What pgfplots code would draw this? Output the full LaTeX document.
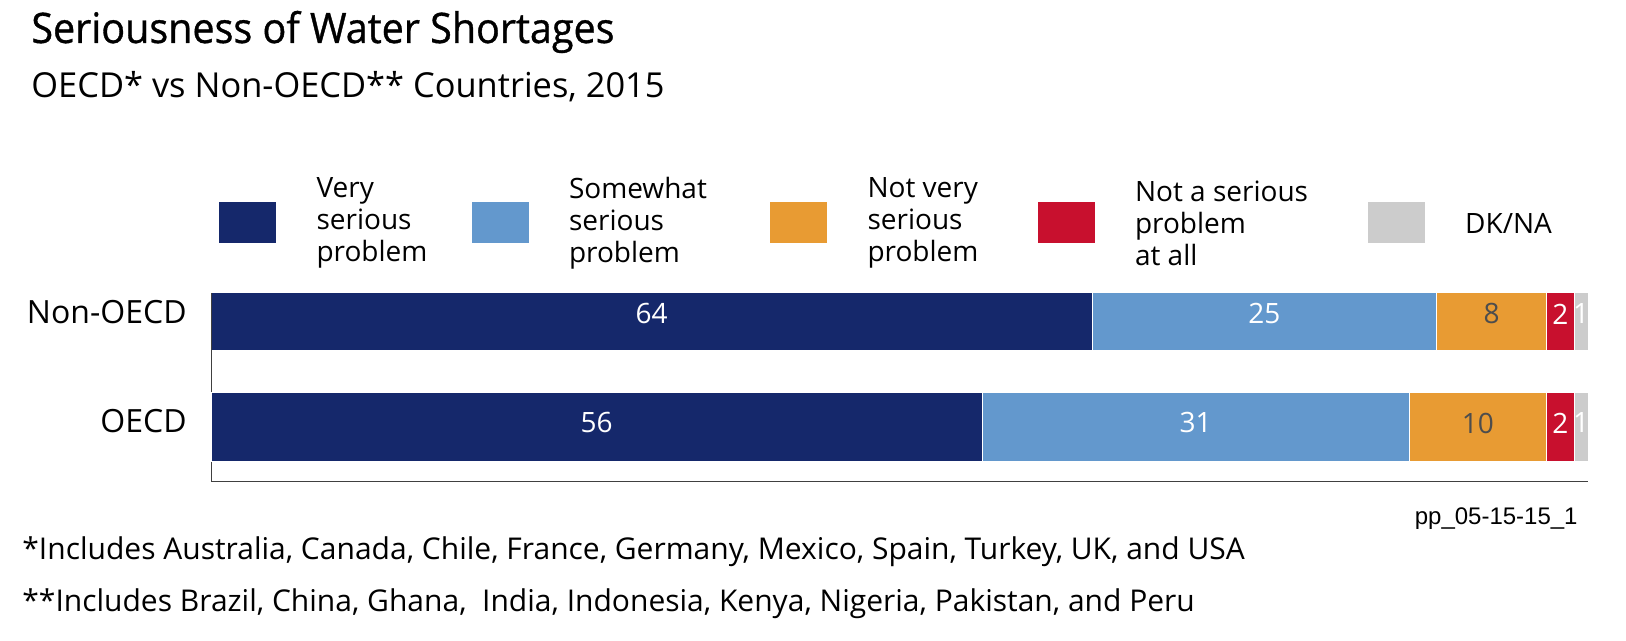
\documentclass[border=0pt]{standalone}
\usepackage{fontspec}
\setmainfont{Open Sans}
\newfontfamily\titlefont[FakeStretch=0.94, FakeBold=0.8]{Open Sans}
\newfontfamily\ppfont{Liberation Sans}
\usepackage{pgfplots}
\usepackage{pgfplotstable}
\pgfplotsset{compat=1.18}
\definecolor{navy}{HTML}{15286B}
\definecolor{lblue}{HTML}{6398CD}
\definecolor{orng}{HTML}{E89B33}
\definecolor{rred}{HTML}{C8102E}
\definecolor{lgray}{HTML}{CCCCCC}
\definecolor{lbl}{HTML}{4D4D4D}

\pgfplotstableread{
y v1 v2 v3 v4 v5
1 64 25 8 2 1
}\nonoecd
\pgfplotstableread{
y v1 v2 v3 v4 v5
0 56 31 10 2 1
}\oecd

\pgfplotsset{
  base/.style={
    width=688.5pt, height=94.5pt, scale only axis,
    at={(105.5pt,79.5pt)}, anchor=south west,
    xmin=0, xmax=100, ymin=-0.5166, ymax=1.2749,
    xbar stacked,
    axis lines=left,
    axis line style={-, line width=0.5pt, black!75},
    xtick=\empty,
    major tick length=0pt,
    yticklabel style={font=\fontsize{16}{19}\selectfont, inner sep=0pt, xshift=-12pt},
    /pgf/number format/assume math mode=true,
    nodes near coords,
    nodes near coords align={center},
    point meta=explicit,
    every node near coord/.append style={font=\fontsize{14}{16}\selectfont, inner sep=0pt},
  },
  seg/.style 2 args={
    fill=#1, draw=white, line width=0.5pt,
    every node near coord/.append style={text=#2},
  },
}

\begin{document}
\begin{tikzpicture}
\useasboundingbox (0,0) rectangle (813pt,320.5pt);

\node[anchor=base west, inner sep=0pt, font=\titlefont\fontsize{21}{24}\selectfont] at (15.5pt,299pt) {Seriousness of Water Shortages};
\node[anchor=base west, inner sep=0pt, font=\fontsize{17.2}{20}\selectfont] at (15.5pt,271.5pt) {OECD* vs Non-OECD** Countries, 2015};

\begin{axis}[base,
  bar width=29pt,
  ytick={1}, yticklabels={Non-OECD},
  yticklabel style={yshift=5pt},
  every node near coord/.append style={yshift=4pt},
  legend columns=5,
  legend cell align=left,
  legend style={at={(0.0051,1.3704)}, anchor=west, draw=none, fill=none,
    inner sep=0pt, outer sep=0pt,
    nodes={inner sep=0pt, text depth={}, font=\fontsize{14}{16}\selectfont},
    /tikz/every odd column/.append style={column sep=19.75pt},
    /tikz/every even column/.append style={column sep=0pt}},
  legend image code/.code={\fill[#1] (0pt,-10.5pt) rectangle (29pt,10.5pt);},
]
\addplot[seg={navy}{white}] table[x=v1, y=y, meta=v1] {\nonoecd};
\addlegendentry{\parbox[c]{77pt}{\raggedright Very\\serious\\problem}}
\addplot[seg={lblue}{white}] table[x=v2, y=y, meta=v2] {\nonoecd};
\addlegendentry{\parbox[c]{100pt}{\raggedright Somewhat\\serious\\problem}}
\addplot[seg={orng}{lbl}] table[x=v3, y=y, meta=v3] {\nonoecd};
\addlegendentry{\parbox[c]{84.5pt}{\raggedright Not very\\serious\\problem}}
\addplot[seg={rred}{white}] table[x=v4, y=y, meta=v4] {\nonoecd};
\addlegendentry{\parbox[c]{115.85pt}{\raggedright Not a serious\\problem\\at all}}
\addplot[seg={lgray}{white}] table[x=v5, y=y, meta=v5] {\nonoecd};
\addlegendentry{DK/NA}
\end{axis}

\begin{axis}[base,
  bar width=34.5pt,
  ytick={0}, yticklabels={OECD},
  yticklabel style={yshift=3pt},
  every node near coord/.append style={yshift=2.25pt},
]
\addplot[seg={navy}{white}] table[x=v1, y=y, meta=v1] {\oecd};
\addplot[seg={lblue}{white}] table[x=v2, y=y, meta=v2] {\oecd};
\addplot[seg={orng}{lbl}] table[x=v3, y=y, meta=v3] {\oecd};
\addplot[seg={rred}{white}] table[x=v4, y=y, meta=v4] {\oecd};
\addplot[seg={lgray}{white}] table[x=v5, y=y, meta=v5] {\oecd};
\end{axis}

\node[anchor=base east, inner sep=0pt, font=\ppfont\fontsize{12}{14}\selectfont] at (789pt,58pt) {pp\_05-15-15\_1};
\node[anchor=base west, inner sep=0pt, font=\fontsize{15}{17}\selectfont] at (11pt,40.5pt) {*Includes Australia, Canada, Chile, France, Germany, Mexico, Spain, Turkey, UK, and USA};
\node[anchor=base west, inner sep=0pt, font=\fontsize{15}{17}\selectfont] at (11pt,14.5pt) {**Includes Brazil, China, Ghana, \ India, Indonesia, Kenya, Nigeria, Pakistan, and Peru};
\end{tikzpicture}
\end{document}
